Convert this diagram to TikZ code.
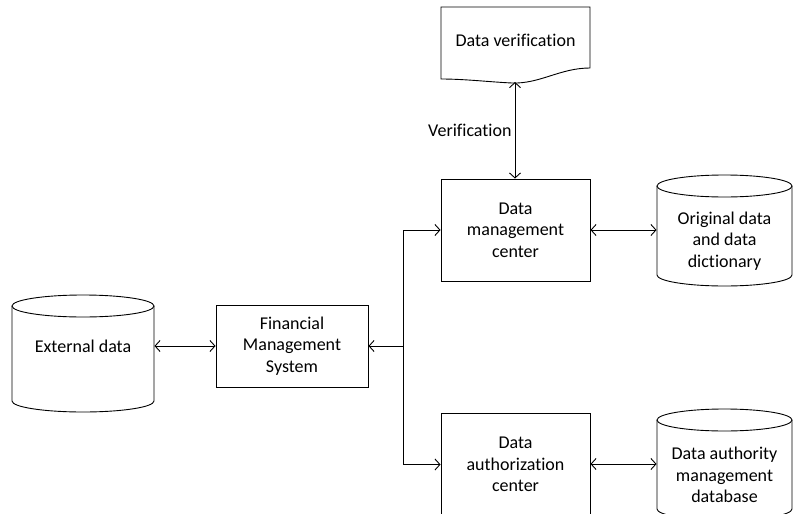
\documentclass[tikz,border=0pt]{standalone}
\usepackage{fontspec}
\setmainfont[Ligatures={NoCommon}]{Carlito}
\usetikzlibrary{arrows.meta}
\begin{document}
\begin{tikzpicture}[x=1pt,y=-1pt,line width=0.9pt,
  every node/.style={font=\fontsize{18}{21.5}\selectfont, align=center},
  boxnode/.style={draw, rectangle, inner sep=0pt},
  cylnode/.style={draw=none, rectangle, inner sep=0pt},
  conn/.style={-{Straight Barb[length=5pt,width=11pt,line width=0.9pt]}},
  biconn/.style={{Straight Barb[length=5pt,width=11pt,line width=0.9pt]}-{Straight Barb[length=5pt,width=11pt,line width=0.9pt]}}]
\useasboundingbox (0,0) rectangle (793,514);
\clip (0,0) rectangle (793,514);

% Data verification (document shape)
\draw (441,7) -- (590,7) -- (590,68)
  .. controls (560,68) and (540,84) .. (512,83)
  .. controls (490,82) and (465,79) .. (441,79) -- cycle;
\node (dv) at (515.5,40) {Data verification};
\coordinate (dvb) at (515,82);

% Boxes
\node[boxnode, minimum width=149pt, minimum height=102pt] (dmc) at (515.5,230) {Data\\management\\center};
\node[boxnode, minimum width=152pt, minimum height=82pt] (fms) at (292,346) {Financial\\Management\\System};
\node[boxnode, minimum width=149pt, minimum height=102pt] (dac) at (515.5,464.5) {Data\\authorization\\center};

% Cylinders
% External data
\draw (83,306) ellipse[x radius=71,y radius=11];
\draw (12,306) -- (12,401) arc[start angle=180,end angle=0,x radius=71,y radius=11] -- (154,306);
\node[cylnode, minimum width=142pt, minimum height=60pt] (ext) at (83,346) {External data};

% Original data
\draw (724.5,186) ellipse[x radius=67.5,y radius=11];
\draw (657,186) -- (657,275) arc[start angle=180,end angle=0,x radius=67.5,y radius=11] -- (792,186);
\node[cylnode, minimum width=135pt, minimum height=60pt] (orig) at (724.5,241) {Original data\\and data\\dictionary};

% Data authority
\draw (724.5,420) ellipse[x radius=67.5,y radius=11];
\draw (657,420) -- (657,509) arc[start angle=180,end angle=0,x radius=67.5,y radius=11] -- (792,420);
\node[cylnode, minimum width=135pt, minimum height=60pt] (auth) at (724.5,475) {Data authority\\management\\database};

% Connectors
\draw[biconn] (dvb) -- (dmc.north -| dvb) node[pos=0.5, left, inner sep=3pt] (vlab) {Verification};
\draw[biconn] (ext.east |- fms) -- (fms.west);
\coordinate (junc) at (403,346);
\draw[conn] (junc) -- (fms.east);
\draw[conn] (junc) |- (dmc.west);
\draw[conn] (junc) |- (dac.west);
\draw[biconn] (dmc.east) -- (orig.west |- dmc.east);
\draw[biconn] (dac.east |- 0,464) -- (auth.west |- 0,464);
\end{tikzpicture}
\end{document}
